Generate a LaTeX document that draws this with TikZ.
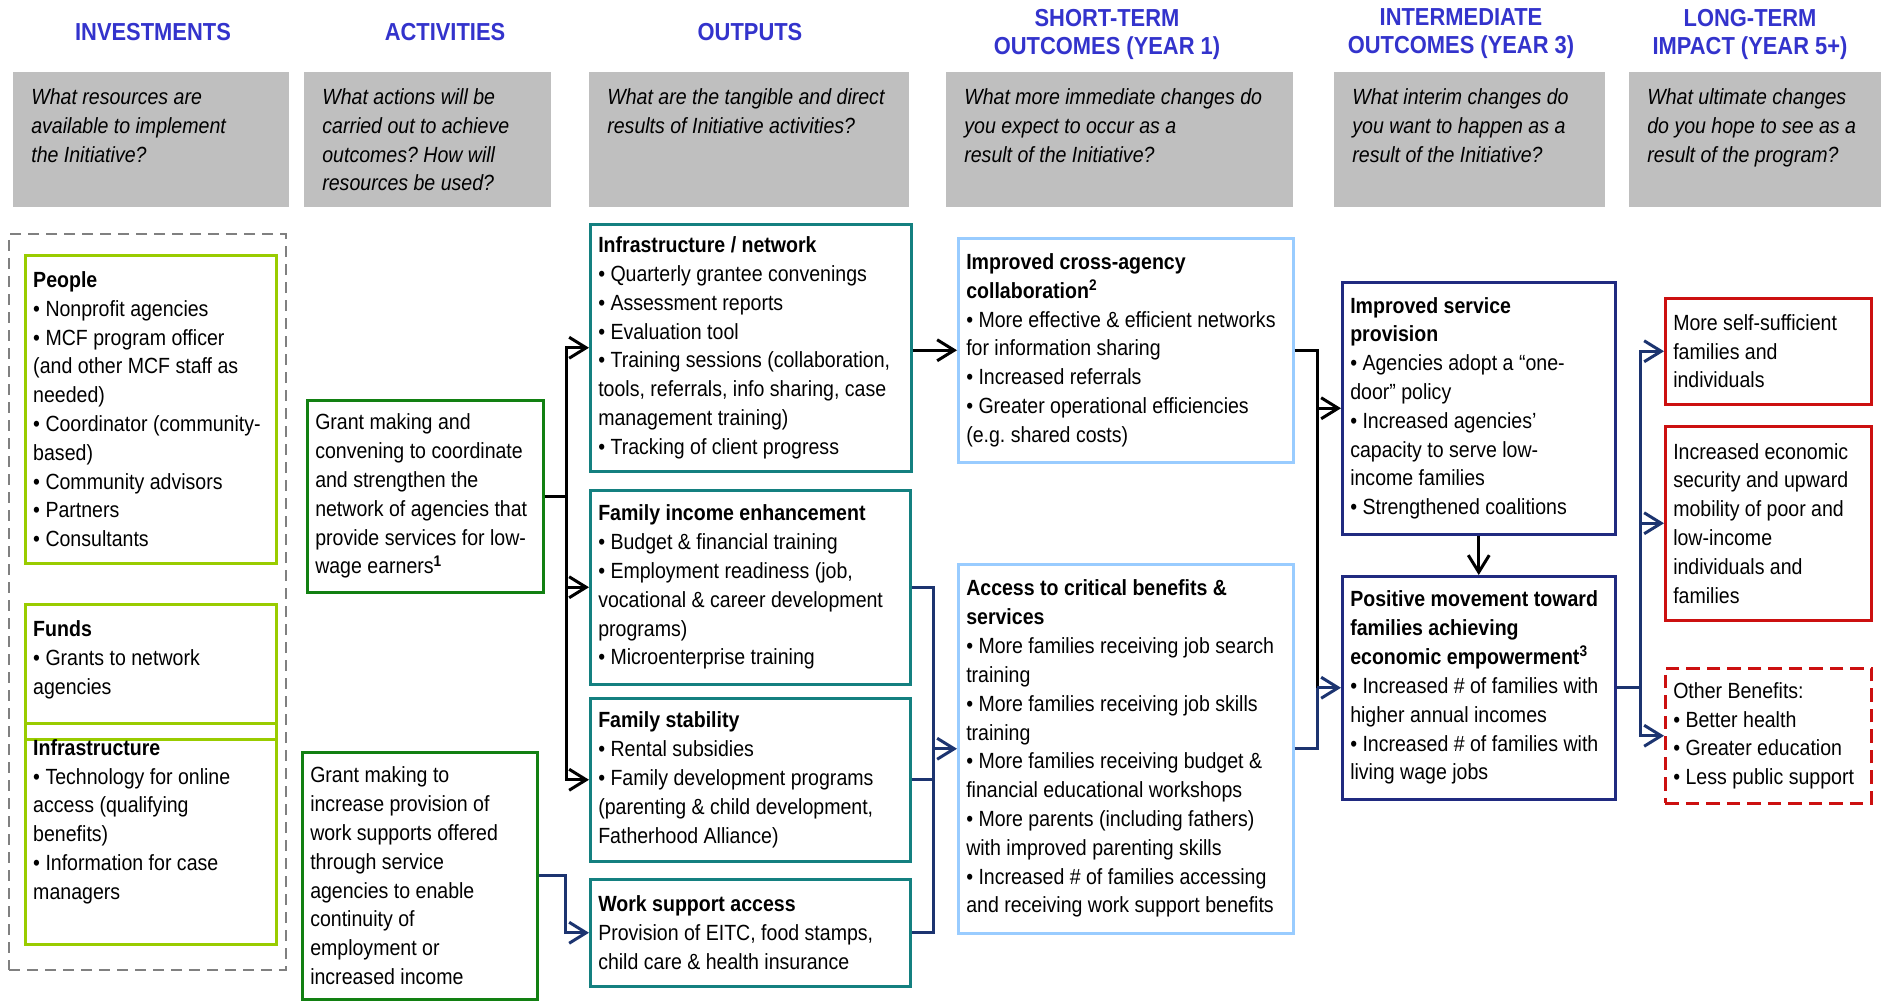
\documentclass[tikz,border=0pt]{standalone}
\usepackage{fontspec}
\setmainfont[FakeStretch=0.89]{Liberation Sans}
\usetikzlibrary{arrows.meta}
\definecolor{titleblue}{RGB}{51,51,204}
\definecolor{askgray}{RGB}{191,191,191}
\definecolor{resgreen}{RGB}{153,204,0}
\definecolor{actgreen}{RGB}{18,128,18}
\definecolor{outteal}{RGB}{20,128,128}
\definecolor{stblue}{RGB}{153,204,255}
\definecolor{itblue}{RGB}{32,42,128}
\definecolor{ltred}{RGB}{204,16,16}
\definecolor{linknavy}{RGB}{28,52,112}
\definecolor{framegray}{RGB}{128,128,128}
\newcommand{\bodyfont}{\fontsize{12.5}{16.4}\selectfont}
\newcommand{\titlefont}{\fontsize{14}{15.9}\selectfont\bfseries}
% plain word spacing inside the boxes
\newcommand{\plainspacing}{\spaceskip=0pt\xspaceskip=0pt\frenchspacing}

\begin{document}
\begin{tikzpicture}[
  x=0.2mm, y=-0.2mm, font=\bodyfont, >={Straight Barb[length=3.4mm,width=4.2mm]},
  heading/.style={font=\titlefont, text=titleblue, align=center},
  ask/.style={fill=askgray, anchor=north west, minimum height=27mm, inner xsep=3.6mm, inner ysep=0pt, align=left, font=\bodyfont\itshape, execute at begin node=\plainspacing},
  box/.style={draw, line width=0.5mm, anchor=north west, inner xsep=1.6mm, inner ysep=2pt, align=left, execute at begin node=\plainspacing},
  resbox/.style={box, draw=resgreen},
  actbox/.style={box, draw=actgreen},
  outbox/.style={box, draw=outteal},
  stbox/.style={box, draw=stblue},
  itbox/.style={box, draw=itblue},
  ltbox/.style={box, draw=ltred},
  link/.style={line width=0.6mm},
  navylink/.style={link, draw=linknavy}]
\useasboundingbox (0,0) rectangle (1885,1000);
% ---------------- column headings ----------------
\node[heading] (hinv) at (153,32) {INVESTMENTS};
\node[heading] (hact) at (445,32) {ACTIVITIES};
\node[heading] (hout) at (750,32) {OUTPUTS};
\node[heading] (hst) at (1107,34) {SHORT-TERM\\OUTCOMES (YEAR 1)};
\node[heading] (hit) at (1461,34) {INTERMEDIATE\\OUTCOMES (YEAR 3)};
\node[heading] (hlt) at (1750,34) {LONG-TERM\\IMPACT (YEAR 5+)};
% guiding questions
\node[ask, minimum width=55.2mm, text width=48.0mm] (q1) at (13,72) {What resources are\\available to implement\\the Initiative?\\\mbox{}};
\node[ask, minimum width=49.4mm, text width=42.2mm] (q2) at (304,72) {What actions will be\\carried out to achieve\\outcomes? How will\\resources be used?};
\node[ask, minimum width=64.0mm, text width=56.8mm] (q3) at (589,72) {What are the tangible and direct\\results of Initiative activities?\\\mbox{}\\\mbox{}};
\node[ask, minimum width=69.4mm, text width=62.2mm] (q4) at (946,72) {What more immediate changes do\\you expect to occur as a\\result of the Initiative?\\\mbox{}};
\node[ask, minimum width=54.2mm, text width=47.0mm] (q5) at (1334,72) {What interim changes do\\you want to happen as a\\result of the Initiative?\\\mbox{}};
\node[ask, minimum width=50.4mm, text width=43.2mm] (q6) at (1629,72) {What ultimate changes\\do you hope to see as a\\result of the program?\\\mbox{}};
% ---------------- investments ----------------
\node[draw=framegray, dash pattern=on 2.2mm off 1.4mm, line width=0.4mm, anchor=north west, minimum width=55.4mm, minimum height=147.2mm] (invest) at (8,233) {};
\node[resbox, minimum width=50.2mm, minimum height=61.6mm, text width=47.0mm] (people) at (24,254) {\textbf{People}\\• Nonprofit agencies\\• MCF program officer\\(and other MCF staff as\\needed)\\• Coordinator (community-\\based)\\• Community advisors\\• Partners\\• Consultants};
\node[resbox, minimum width=50.2mm, minimum height=27.0mm, text width=47.0mm] (funds) at (24,603) {\textbf{Funds}\\• Grants to network\\agencies\\\mbox{}};
\node[resbox, minimum width=50.2mm, minimum height=44.2mm, text width=47.0mm] (infra) at (24,722) {\textbf{Infrastructure}\\• Technology for online\\access (qualifying\\benefits)\\• Information for case\\managers\\\mbox{}};
% ---------------- activities ----------------
\node[actbox, minimum width=47.2mm, minimum height=38.4mm, text width=44.0mm] (a1) at (306,399) {Grant making and\\convening to coordinate\\and strengthen the\\network of agencies that\\provide services for low-\\wage earners\textsuperscript{\textbf{1}}};
\node[actbox, minimum width=47.0mm, minimum height=49.4mm, text width=43.8mm] (a2) at (301,751) {Grant making to\\increase provision of\\work supports offered\\through service\\agencies to enable\\continuity of\\employment or\\increased income};
% ---------------- outputs ----------------
\node[outbox, minimum width=64.2mm, minimum height=49.4mm, text width=61.0mm] (o1) at (589,223) {\textbf{Infrastructure / network}\\• Quarterly grantee convenings\\• Assessment reports\\• Evaluation tool\\• Training sessions (collaboration,\\tools, referrals, info sharing, case\\management training)\\• Tracking of client progress};
\node[outbox, minimum width=64.0mm, minimum height=38.8mm, text width=60.8mm] (o2) at (589,489) {\textbf{Family income enhancement}\\• Budget \& financial training\\• Employment readiness (job,\\vocational \& career development\\programs)\\• Microenterprise training};
\node[outbox, minimum width=64.0mm, minimum height=32.6mm, text width=60.8mm] (o3) at (589,697) {\textbf{Family stability}\\• Rental subsidies\\• Family development programs\\(parenting \& child development,\\Fatherhood Alliance)};
\node[outbox, minimum width=64.0mm, minimum height=21.4mm, text width=60.8mm] (o4) at (589,878) {\textbf{Work support access}\\Provision of EITC, food stamps,\\child care \& health insurance};
% ---------------- short-term outcomes ----------------
\node[stbox, minimum width=67.0mm, minimum height=44.8mm, text width=63.8mm] (s1) at (957,237) {\textbf{Improved cross-agency}\\\textbf{collaboration\textsuperscript{2}}\\• More effective \& efficient networks\\for information sharing\\• Increased referrals\\• Greater operational efficiencies\\(e.g. shared costs)};
\node[stbox, minimum width=67.0mm, minimum height=73.8mm, text width=63.8mm] (s2) at (957,563) {\textbf{Access to critical benefits \&}\\\textbf{services}\\• More families receiving job search\\training\\• More families receiving job skills\\training\\• More families receiving budget \&\\financial educational workshops\\• More parents (including fathers)\\with improved parenting skills\\• Increased \# of families accessing\\and receiving work support benefits};
% ---------------- intermediate outcomes ----------------
\node[itbox, minimum width=54.6mm, minimum height=50.4mm, text width=51.4mm] (i1) at (1341,281) {\textbf{Improved service}\\\textbf{provision}\\• Agencies adopt a “one-\\door” policy\\• Increased agencies’\\capacity to serve low-\\income families\\• Strengthened coalitions};
\node[itbox, minimum width=54.6mm, minimum height=44.6mm, text width=51.4mm] (i2) at (1341,575) {\textbf{Positive movement toward}\\\textbf{families achieving}\\\textbf{economic empowerment\textsuperscript{3}}\\• Increased \# of families with\\higher annual incomes\\• Increased \# of families with\\living wage jobs};
% ---------------- long-term impact ----------------
\node[ltbox, minimum width=41.2mm, minimum height=21.2mm, text width=38.0mm] (l1) at (1664,297) {More self-sufficient\\families and\\individuals};
\node[ltbox, minimum width=41.2mm, minimum height=38.8mm, text width=38.0mm] (l2) at (1664,425) {Increased economic\\security and upward\\mobility of poor and\\low-income\\individuals and\\families};
\node[ltbox, dash pattern=on 2.7mm off 1.4mm, minimum width=41.2mm, minimum height=27.0mm, text width=38.0mm] (l3) at (1664,667) {Other Benefits:\\• Better health\\• Greater education\\• Less public support};
% ---------------- connectors ----------------
\path (a1.east) ++(22,0) coordinate (fanA);
\draw[link] (a1.east) -- (fanA);
\draw[link,->] (fanA) |- (o1.west);
\draw[link,->] (fanA) |- (o2.west);
\draw[link,->] (fanA) |- (o3.west);
\draw[navylink,->] (a2.east) -- ++(27,0) |- (o4.west);
\draw[link,->] (o1.east |- s1.west) -- (s1.west);
\path (s2.west) ++(-24,0) coordinate (fanS);
\draw[navylink] (o2.east) -| (fanS) |- (o4.east);
\draw[navylink] (o3.east) -- (o3.east -| fanS);
\draw[navylink,->] (fanS) -- (s2.west);
\path (i1.west) ++(-24,0) coordinate (fanI);
\draw[link] (s1.east) -| (fanI |- i2.west);
\draw[link,->] (fanI) -- (i1.west);
\draw[navylink] (s2.east) -| (fanI |- i2.west);
\draw[navylink,->] (fanI |- i2.west) -- (i2.west);
\draw[link,->] (i1.south) -- (i2.north);
\path (i2.east) ++(24,0) coordinate (fanL);
\draw[navylink] (i2.east) -- (fanL);
\draw[navylink,->] (fanL) |- (l1.west);
\draw[navylink,->] (fanL) |- (l2.west);
\draw[navylink,->] (fanL) |- (l3.west);
\end{tikzpicture}
\end{document}
